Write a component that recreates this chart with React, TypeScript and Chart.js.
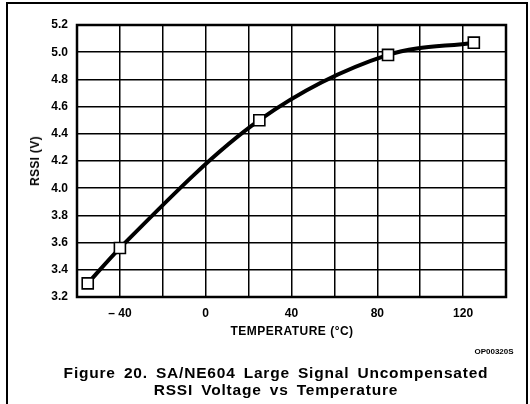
import React, { useEffect, useRef } from "react";
import { Chart, registerables } from "chart.js";

Chart.register(...registerables);

const temperatures = [-55, -40, 25, 85, 125];
const rssiVolts = [3.3, 3.56, 4.5, 4.98, 5.07];
const xLabeledTicks = [-40, 0, 40, 80, 120];
const xTitle = "TEMPERATURE (°C)";
const yTitle = "RSSI (V)";
const figureCode = "OP00320S";
const captionLines = [
  "Figure 20. SA/NE604 Large Signal Uncompensated",
  "RSSI Voltage vs Temperature",
];

const FONT = "'Liberation Sans', Arial, Helvetica, sans-serif";

const framePlugin = {
  id: "framePlugin",
  afterDraw(chart: any) {
    const { ctx, chartArea } = chart;
    ctx.save();
    ctx.strokeStyle = "#000";
    ctx.lineWidth = 2.5;
    ctx.strokeRect(
      chartArea.left,
      chartArea.top,
      chartArea.right - chartArea.left,
      chartArea.bottom - chartArea.top
    );
    ctx.restore();
  },
};

export default function App() {
  const canvasRef = useRef<HTMLCanvasElement | null>(null);

  useEffect(() => {
    document.body.style.margin = "0";
    const canvas = canvasRef.current;
    if (!canvas) return;
    const chart = new Chart(canvas, {
      type: "line",
      data: {
        datasets: [
          {
            data: temperatures.map((t, i) => ({ x: t, y: rssiVolts[i] })),
            borderColor: "#000",
            borderWidth: 4,
            backgroundColor: "#fff",
            cubicInterpolationMode: "monotone",
            pointStyle: "rect",
            pointRadius: 7.8,
            pointBorderWidth: 1.6,
            pointBorderColor: "#000",
            pointBackgroundColor: "#fff",
            fill: false,
          },
        ],
      },
      options: {
        animation: false,
        responsive: false,
        maintainAspectRatio: false,
        layout: { padding: { left: 0, top: 25, right: 24, bottom: 0 } },
        plugins: {
          legend: { display: false },
          tooltip: { enabled: false },
          title: { display: false },
        },
        scales: {
          x: {
            type: "linear",
            min: -60,
            max: 140,
            afterFit(scale: any) {
              scale.height = 107;
            },
            ticks: {
              stepSize: 20,
              autoSkip: false,
              maxRotation: 0,
              padding: 9,
              color: "#000",
              font: { family: FONT, size: 12, weight: "bold" },
              callback: (v: any) => {
                const n = Number(v);
                if (!xLabeledTicks.includes(n)) return "";
                return n < 0 ? "\u2013 " + Math.abs(n) : String(n);
              },
            },
            grid: { color: "#000", lineWidth: 1.5, drawTicks: false },
            border: { display: false },
          },
          y: {
            type: "linear",
            min: 3.2,
            max: 5.2,
            afterFit(scale: any) {
              scale.width = 77;
            },
            ticks: {
              stepSize: 0.2,
              padding: 9,
              color: "#000",
              font: { family: FONT, size: 12, weight: "bold" },
              callback: (v: any) => Number(v).toFixed(1),
            },
            grid: { color: "#000", lineWidth: 1.5, drawTicks: false },
            border: { display: false },
          },
        },
      },
      plugins: [framePlugin],
    } as any);
    return () => chart.destroy();
  }, []);

  const textBase: React.CSSProperties = {
    position: "absolute",
    fontFamily: FONT,
    fontWeight: "bold",
    color: "#000",
    whiteSpace: "nowrap",
  };

  return (
    <div
      style={{
        position: "fixed",
        left: 0,
        top: 0,
        width: 530,
        height: 404,
        background: "#fff",
        overflow: "hidden",
      }}
    >
      <div
        style={{
          position: "absolute",
          left: 6,
          top: 2,
          width: 522,
          height: 420,
          borderLeft: "2px solid #000",
          borderTop: "2px solid #000",
          borderRight: "2px solid #000",
          boxSizing: "border-box",
        }}
      />
      <canvas
        ref={canvasRef}
        width={530}
        height={404}
        style={{ position: "absolute", left: 0, top: 0, width: 530, height: 404 }}
      />
      <div
        style={{
          ...textBase,
          fontSize: 12,
          letterSpacing: 0.3,
          left: 35,
          top: 161,
          transform: "translate(-50%, -50%) rotate(-90deg)",
        }}
      >
        {yTitle}
      </div>
      <div
        style={{
          ...textBase,
          fontSize: 12,
          letterSpacing: 0.5,
          left: 292,
          top: 331,
          transform: "translate(-50%, -50%)",
        }}
      >
        {xTitle}
      </div>
      <div
        style={{
          ...textBase,
          fontSize: 8,
          left: 494,
          top: 351,
          transform: "translate(-50%, -50%)",
        }}
      >
        {figureCode}
      </div>
      {captionLines.map((line, i) => (
        <div
          key={i}
          style={{
            ...textBase,
            fontSize: 15.5,
            letterSpacing: 0.8,
            wordSpacing: 3,
            left: 276,
            top: 373 + i * 17,
            transform: "translate(-50%, -50%)",
          }}
        >
          {line}
        </div>
      ))}
    </div>
  );
}
